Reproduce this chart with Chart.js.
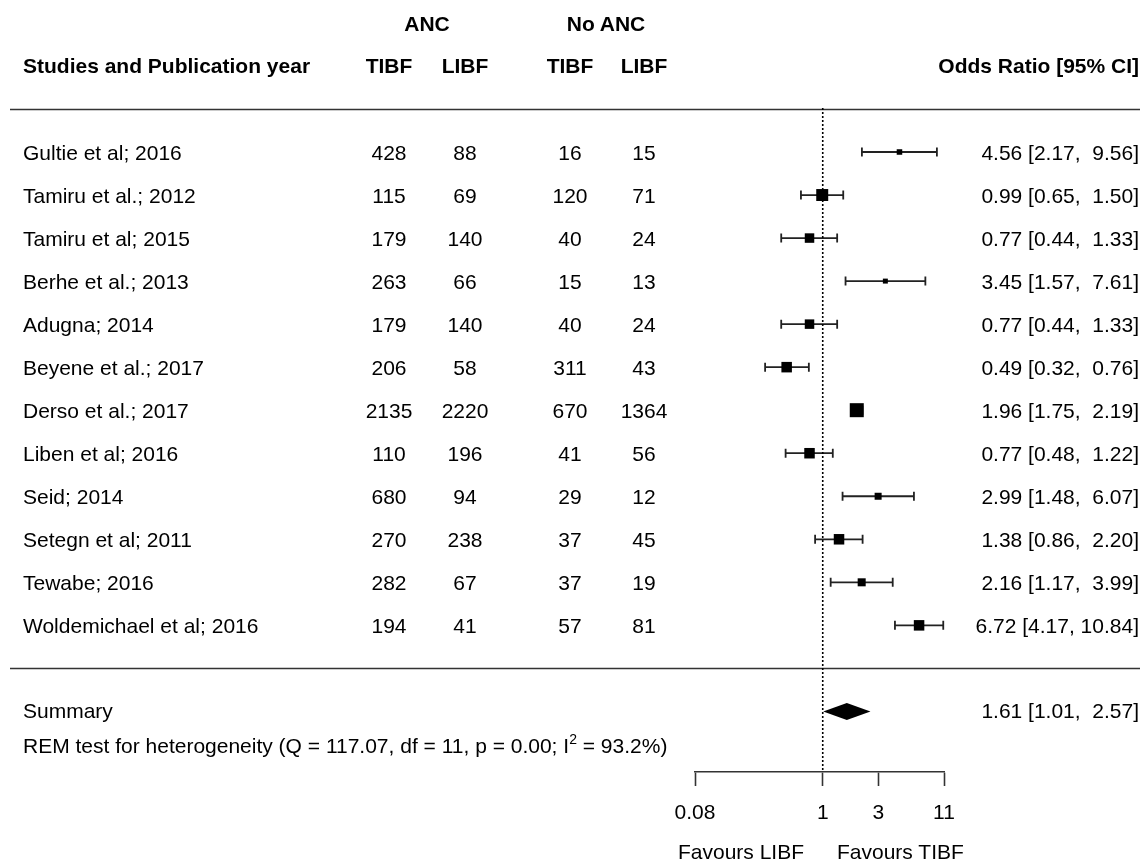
<!DOCTYPE html>
<html>
<head>
<meta charset="utf-8">
<script src="https://cdn.jsdelivr.net/npm/chart.js@4"></script>
<style>
body { margin: 0; background: #fff; }
#wrap { position: relative; width: 1140px; height: 862px; font-family: "Liberation Sans", Arial, sans-serif; font-size: 21px; color: #000; }
canvas { position: absolute; left: 0; top: 0; }
.t { position: absolute; white-space: pre; line-height: 24px; transform: translateY(-50%); }
.b { font-weight: bold; }
.c { transform: translate(-50%, -50%); }
.r { transform: translate(-100%, -50%); }
sup { font-size: 14px; line-height: 0; vertical-align: 9px; }
</style>
</head>
<body>
<div id="wrap"><canvas id="forest" width="1140" height="862"></canvas></div>
<script>
// data
var studies = ["Gultie et al; 2016", "Tamiru et al.; 2012", "Tamiru et al; 2015", "Berhe et al.; 2013",
    "Adugna; 2014", "Beyene et al.; 2017", "Derso et al.; 2017", "Liben et al; 2016", "Seid; 2014",
    "Setegn et al; 2011", "Tewabe; 2016", "Woldemichael et al; 2016"];
var ancTIBF = [428, 115, 179, 263, 179, 206, 2135, 110, 680, 270, 282, 194];
var ancLIBF = [88, 69, 140, 66, 140, 58, 2220, 196, 94, 238, 67, 41];
var noAncTIBF = [16, 120, 40, 15, 40, 311, 670, 41, 29, 37, 37, 57];
var noAncLIBF = [15, 71, 24, 13, 24, 43, 1364, 56, 12, 45, 19, 81];
var oddsRatio = [4.56, 0.99, 0.77, 3.45, 0.77, 0.49, 1.96, 0.77, 2.99, 1.38, 2.16, 6.72];
var ciLower = [2.17, 0.65, 0.44, 1.57, 0.44, 0.32, 1.75, 0.48, 1.48, 0.86, 1.17, 4.17];
var ciUpper = [9.56, 1.50, 1.33, 7.61, 1.33, 0.76, 2.19, 1.22, 6.07, 2.20, 3.99, 10.84];
// relative study weights
var weights = [4.9, 10.6, 8.4, 4.4, 8.4, 9.3, 12.4, 9.3, 6.2, 9.3, 7.1, 9.3];
var summaryOR = 1.61, summaryLower = 1.01, summaryUpper = 2.57;
var heterogeneity = "REM test for heterogeneity (Q = 117.07, df = 11, p = 0.00; I<sup>2</sup> = 93.2%)";
var xTicks = [0.08, 1, 3, 11];

var summaryRow = studies.length + 2;
var yTop = -0.0225, yBottom = 15.408;

function fmt(v) { return v.toFixed(2); }
function ciText(est, lo, hi) {
    var h = fmt(hi);
    return fmt(est) + " [" + fmt(lo) + ", " + (h.length < 5 ? " " : "") + h + "]";
}

var forestMarks = {
    id: 'forestMarks',
    beforeDatasetsDraw: function(chart) {
        var ctx = chart.ctx, xs = chart.scales.x, ys = chart.scales.y;
        ctx.save();
        // separator lines
        ctx.strokeStyle = '#333';
        ctx.lineWidth = 1.6;
        [0, studies.length + 1].forEach(function(r) {
            var y = Math.round(ys.getPixelForValue(r)) + 0.5;
            ctx.beginPath();
            ctx.moveTo(10, y);
            ctx.lineTo(1140, y);
            ctx.stroke();
        });
        // confidence intervals
        ctx.strokeStyle = '#222';
        ctx.lineWidth = 1.8;
        for (var i = 0; i < studies.length; i++) {
            var y = ys.getPixelForValue(i + 1);
            var x1 = xs.getPixelForValue(ciLower[i]), x2 = xs.getPixelForValue(ciUpper[i]);
            ctx.beginPath();
            ctx.moveTo(x1, y); ctx.lineTo(x2, y);
            ctx.moveTo(x1, y - 4.5); ctx.lineTo(x1, y + 4.5);
            ctx.moveTo(x2, y - 4.5); ctx.lineTo(x2, y + 4.5);
            ctx.stroke();
        }
        // summary diamond
        var sy = ys.getPixelForValue(summaryRow);
        ctx.fillStyle = '#000';
        ctx.beginPath();
        ctx.moveTo(xs.getPixelForValue(summaryLower), sy);
        ctx.lineTo(xs.getPixelForValue(summaryOR), sy - 8.5);
        ctx.lineTo(xs.getPixelForValue(summaryUpper), sy);
        ctx.lineTo(xs.getPixelForValue(summaryOR), sy + 8.5);
        ctx.closePath();
        ctx.fill();
        ctx.restore();
    }
};

var chart = new Chart(document.getElementById('forest'), {
    type: 'scatter',
    data: {
        datasets: [
            {
                data: oddsRatio.map(function(v, i) { return {x: v, y: i + 1}; }),
                pointStyle: 'rect',
                pointRadius: weights.map(function(w) { return w * 1.13 / Math.SQRT2; }),
                backgroundColor: '#000',
                borderWidth: 0
            },
            {
                type: 'line',
                data: [{x: 1, y: yTop}, {x: 1, y: yBottom}],
                borderColor: '#000',
                borderWidth: 1.6,
                borderDash: [2, 2],
                pointRadius: 0
            }
        ]
    },
    options: {
        responsive: false,
        animation: false,
        events: [],
        layout: { padding: { left: 695, right: 196, top: 108, bottom: 30 } },
        plugins: { legend: { display: false }, tooltip: { enabled: false } },
        scales: {
            x: {
                type: 'logarithmic',
                min: 0.08,
                max: 11,
                afterBuildTicks: function(s) { s.ticks = xTicks.map(function(v) { return {value: v}; }); },
                afterFit: function(s) { s.height = 60; },
                ticks: {
                    autoSkip: false,
                    maxRotation: 0,
                    padding: 15,
                    color: '#000',
                    font: { family: 'Liberation Sans', size: 21 },
                    callback: function(v) { return String(v); }
                },
                grid: { drawOnChartArea: false, drawTicks: true, tickLength: 14, tickColor: '#333', tickWidth: 1.6 },
                border: { display: true, color: '#333', width: 1.6 }
            },
            y: {
                type: 'linear',
                reverse: true,
                min: yTop,
                max: yBottom,
                display: false
            }
        }
    },
    plugins: [forestMarks]
});

// table text
var wrap = document.getElementById('wrap');
function addText(html, x, y, cls) {
    var d = document.createElement('div');
    d.className = 't ' + (cls || '');
    d.style.left = x + 'px';
    d.style.top = y + 'px';
    d.innerHTML = html;
    wrap.appendChild(d);
}
var ys = chart.scales.y;
addText("ANC", 427, 24, 'b c');
addText("No ANC", 606, 24, 'b c');
addText("Studies and Publication year", 23, 66, 'b');
addText("TIBF", 389, 66, 'b c');
addText("LIBF", 465, 66, 'b c');
addText("TIBF", 570, 66, 'b c');
addText("LIBF", 644, 66, 'b c');
addText("Odds Ratio [95% CI]", 1139, 66, 'b r');
studies.forEach(function(s, i) {
    var y = ys.getPixelForValue(i + 1) + 1;
    addText(s, 23, y);
    addText(String(ancTIBF[i]), 389, y, 'c');
    addText(String(ancLIBF[i]), 465, y, 'c');
    addText(String(noAncTIBF[i]), 570, y, 'c');
    addText(String(noAncLIBF[i]), 644, y, 'c');
    addText(ciText(oddsRatio[i], ciLower[i], ciUpper[i]), 1139, y, 'r');
});
var sy = ys.getPixelForValue(summaryRow);
addText("Summary", 23, sy);
addText(ciText(summaryOR, summaryLower, summaryUpper), 1139, sy, 'r');
addText(heterogeneity, 23, sy + 35);
addText("Favours LIBF", 804, 852, 'r');
addText("Favours TIBF", 837, 852);
</script>
</body>
</html>
